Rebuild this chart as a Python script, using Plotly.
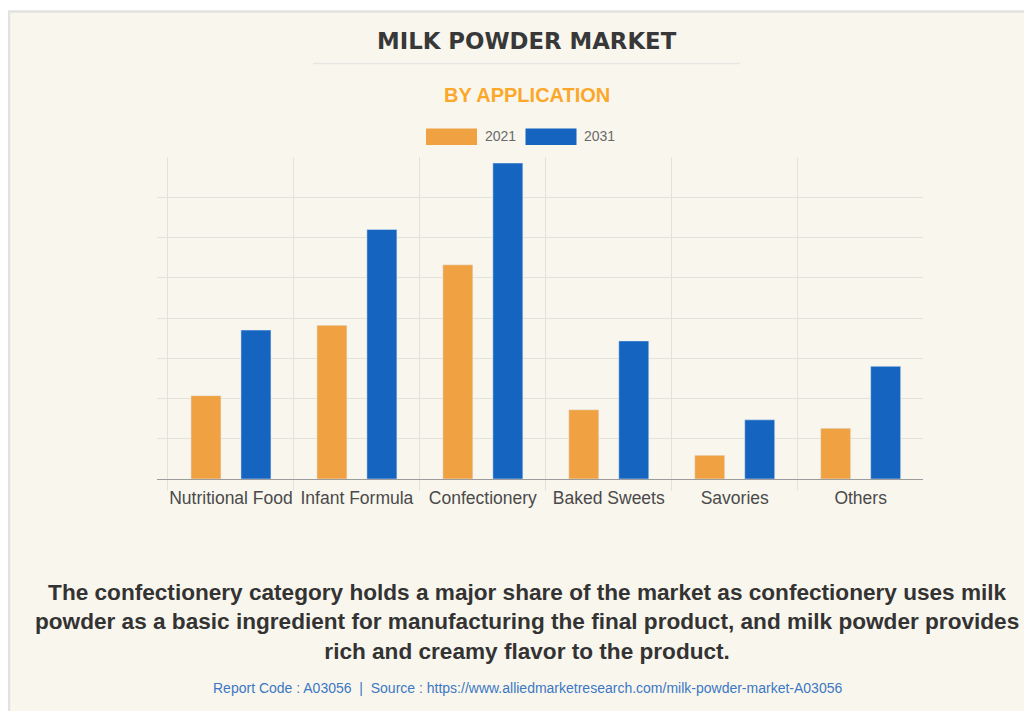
import plotly.graph_objects as go

categories = ['Nutritional Food', 'Infant Formula', 'Confectionery',
              'Baked Sweets', 'Savories', 'Others']
values_2021 = [2.07, 3.82, 5.32, 1.72, 0.59, 1.26]
values_2031 = [3.70, 6.20, 7.85, 3.43, 1.47, 2.80]
years = ['2021', '2031']

ORANGE = '#F0A243'
BLUE = '#1565C0'
CREAM = '#F9F6EE'

# page body has an 8px margin, so work in window pixels and shift
OFF = 8
W, H = 1032 - OFF, 711 - OFF
L, R, T, B = 157, 923, 157, 479


def px(x):
    return (x - L) / (R - L)


def py(y):
    return (B - y) / (B - T)


fig = go.Figure()
fig.add_trace(go.Bar(x=categories, y=values_2021, name=years[0],
                     marker={'color': ORANGE}, showlegend=False))
fig.add_trace(go.Bar(x=categories, y=values_2031, name=years[1],
                     marker={'color': BLUE}, showlegend=False))

shapes = [
    # card background
    dict(type='rect', xref='paper', yref='paper', layer='below',
         x0=px(9), x1=px(1045), y0=py(730), y1=py(11.5),
         fillcolor=CREAM, line={'color': '#E2E2E0', 'width': 2.5}),
    # separator under title
    dict(type='line', xref='paper', yref='paper',
         x0=px(313), x1=px(740), y0=py(63.5), y1=py(63.5),
         line={'color': '#E8E6E0', 'width': 1.5}),
    # legend swatches
    dict(type='rect', xref='paper', yref='paper',
         x0=px(426), x1=px(477), y0=py(145), y1=py(128.5),
         fillcolor=ORANGE, line={'width': 0}),
    dict(type='rect', xref='paper', yref='paper',
         x0=px(525.5), x1=px(576.5), y0=py(145), y1=py(128.5),
         fillcolor=BLUE, line={'width': 0}),
]

cx = px(527)
annotations = [
    dict(text='<b>MILK POWDER MARKET</b>', x=cx, y=py(41),
         font={'family': 'DejaVu Sans', 'size': 22.8, 'color': '#383838'}),
    dict(text='<b>BY APPLICATION</b>', x=cx, y=py(95),
         font={'family': 'Liberation Sans', 'size': 20,
               'color': '#FBA82A'}),
    dict(text=years[0], x=px(483), y=py(136.5), xanchor='left',
         font={'family': 'Liberation Sans', 'size': 14, 'color': '#6A6A6A'}),
    dict(text=years[1], x=px(582), y=py(136.5), xanchor='left',
         font={'family': 'Liberation Sans', 'size': 14, 'color': '#6A6A6A'}),
    dict(text='<b>The confectionery category holds a major share of the '
              'market as confectionery uses milk<br>powder as a basic '
              'ingredient for manufacturing the final product, and milk '
              'powder provides<br>rich and creamy flavor to the product.</b>',
         x=cx, y=py(621.5), align='center',
         font={'family': 'Liberation Sans', 'size': 22.6,
               'color': '#333333'}),
    dict(text='Report Code : A03056  |  Source : '
              'https://www.alliedmarketresearch.com/milk-powder-market-A03056',
         x=cx, y=py(688),
         font={'family': 'Liberation Sans', 'size': 14,
               'color': '#3C78C3'}),
]
for a in annotations:
    a.update(xref='paper', yref='paper', yanchor='middle', showarrow=False)

fig.update_layout(
    width=W, height=H,
    margin={'l': L - OFF, 'r': W - (R - OFF), 't': T - OFF,
            'b': H - (B - OFF), 'pad': 0},
    paper_bgcolor='white', plot_bgcolor='rgba(0,0,0,0)',
    barmode='group', bargap=0.206, bargroupgap=0.4,
    showlegend=False, shapes=shapes, annotations=annotations,
    xaxis={'range': [-0.5 - 11 / 126, 5.495], 'tickson': 'boundaries',
           'showgrid': True, 'gridcolor': '#E4E2DC', 'gridwidth': 1,
           'ticks': 'outside', 'ticklen': 11, 'tickcolor': '#E4E2DC',
           'ticklabelstandoff': 3, 'tickangle': 0,
           'showline': True, 'linecolor': '#9C9C9C', 'linewidth': 1,
           'tickfont': {'family': 'Liberation Sans', 'size': 17.5,
                        'color': '#4A4A4A'}, 'fixedrange': True},
    yaxis={'range': [0, 8], 'dtick': 1, 'showticklabels': False,
           'showgrid': True, 'gridcolor': '#E4E2DC', 'gridwidth': 1,
           'zeroline': False, 'fixedrange': True},
)

fig.write_html("out.html")
